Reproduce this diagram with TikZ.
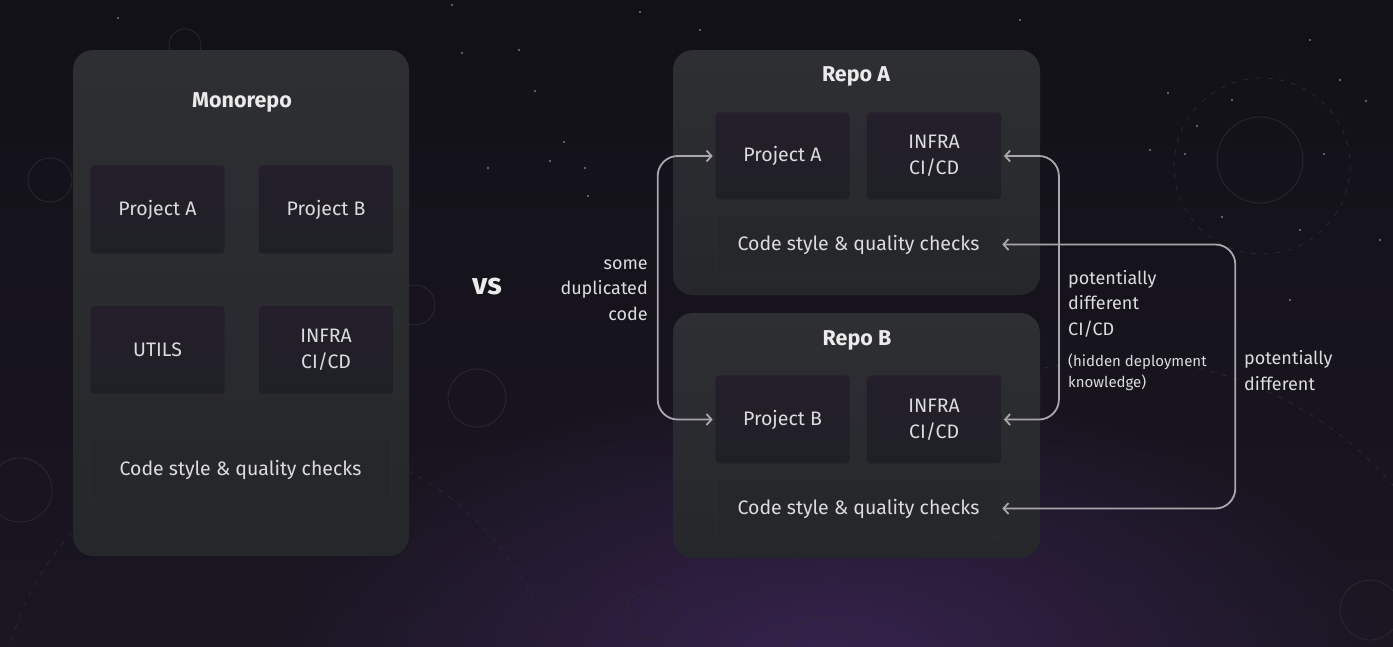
\documentclass[tikz,border=0pt]{standalone}
\usepackage{fontspec}
\setmainfont{Fira Sans}
\usetikzlibrary{positioning,arrows.meta,calc,fadings}

\definecolor{bgtop}{HTML}{121117}
\definecolor{bgbot}{HTML}{1A1622}
\definecolor{glow}{HTML}{3A2452}
\definecolor{paneltop}{HTML}{2E2F32}
\definecolor{panelbot}{HTML}{26272A}
\definecolor{celltop}{HTML}{241F2B}
\definecolor{cellbot}{HTML}{1F2026}
\definecolor{cellline}{HTML}{2F2E34}
\definecolor{chkfill}{HTML}{262729}
\definecolor{txt}{HTML}{DCDCDE}
\definecolor{linkgray}{HTML}{A8A8AC}
\definecolor{deco}{HTML}{292833}

\tikzfading[name=glowfade,inner color=transparent!0,outer color=transparent!100]

\begin{document}
\begin{tikzpicture}[x=1pt,y=-1pt,
  font=\fontsize{19.5}{26}\selectfont,
  >={Straight Barb[length=5pt,width=11pt]},
  panel/.style={rounded corners=20pt,top color=paneltop,bottom color=panelbot,
    minimum width=367pt,minimum height=245pt,inner sep=0pt},
  title/.style={font=\fontsize{21.5}{24}\selectfont\bfseries,text=white!92!black},
  cell/.style={rounded corners=4pt,top color=celltop,bottom color=cellbot,draw=cellline,
    line width=0.6pt,minimum width=135pt,minimum height=89pt,inner sep=0pt,
    align=center,text=txt},
  chk/.style={rounded corners=2pt,fill=chkfill,draw=cellline,line width=0.6pt,
    minimum width=283pt,minimum height=57pt,inner sep=0pt,text=txt},
  note/.style={text=txt,inner sep=0pt,font=\fontsize{18}{25.5}\selectfont},
  smallnote/.style={note,font=\fontsize{15}{21}\selectfont},
  flow/.style={<->,linkgray,line width=1.8pt,rounded corners=20pt,
    shorten <=2pt,shorten >=2pt},
  ring/.style={deco,line width=0.8pt},
  dashring/.style={ring,dash pattern=on 5pt off 7pt},
]

% --- background ---
\useasboundingbox (0,0) rectangle (1393,646);
\shade[top color=bgtop,bottom color=bgbot] (0,0) rectangle (1393,646);
\fill[glow,path fading=glowfade,fill opacity=0.9] (830,660) ellipse [x radius=560,y radius=280];
\begin{scope}
  \clip (0,0) rectangle (1393,646);
  \draw[ring] (185,45) circle (16);
  \draw[ring] (50,180) circle (22);
  \draw[ring] (415,305) circle (20);
  \draw[ring] (477,398) circle (29);
  \draw[ring] (20,490) circle (32);
  \draw[ring] (1260,160) circle (43);
  \draw[dashring] (1262,166) circle (88);
  \draw[ring] (820,655) circle (38);
  \draw[ring] (650,615) circle (25);
  \draw[ring] (1370,610) circle (30);
  \draw[dashring] (280,720) circle (280);
  \draw[dashring] (1120,720) circle (360);
  \foreach \sx/\sy in {118/18,462/53,519/50,535/91,564/142,488/168,585/168,588/196,
    550/161,452/5,1185/154,1197/126,1222/217,1310/40,1340/80,1366/101,1324/154,
    1300/230,1290/300,1232/100,1168/93,1150/150,700/30,640/12,1020/20,1380/240}
    \fill[white,opacity=0.45] (\sx,\sy) circle (1.1);
\end{scope}

% --- Monorepo ---
\node[panel,minimum width=336pt,minimum height=506pt] (mono) at (241,303) {};
\node[title] (mtitle) at (242,102) {Monorepo};
\node[cell] (mpa) at (157.5,209.5) {Project A};
\node[cell,right=33pt of mpa] (mpb) {Project B};
\node[cell,below=51pt of mpa] (mut) {UTILS};
\node[cell,below=51pt of mpb] (minf) {INFRA\\CI/CD};
\node[chk,minimum width=301pt,minimum height=59pt] (mchk) at (240.5,469.5) {Code style \& quality checks};

% --- vs ---
\node[font=\fontsize{30}{30}\selectfont\bfseries,text=white!92!black] (vs) at (487,287) {vs};

% --- Repo A ---
\node[panel] (repoa) at (856.5,172.5) {};
\node[title] (atitle) at (856,76) {Repo A};
\node[cell,minimum height=88pt] (apa) at (782.5,156) {Project A};
\node[cell,minimum height=88pt,right=16pt of apa] (ainf) {INFRA\\CI/CD};
\node[chk] (achk) at (858.5,244.5) {Code style \& quality checks};

% --- Repo B ---
\node[panel] (repob) at (856.5,435.5) {};
\node[title] (btitle) at (857,340) {Repo B};
\node[cell] (bpb) at (782.5,419.5) {Project B};
\node[cell,right=16pt of bpb] (binf) {INFRA\\CI/CD};
\node[chk] (bchk) at (858.5,508.5) {Code style \& quality checks};

% --- connectors ---
\draw[flow] (apa.west) -- ++(-57,0) |- (bpb.west);
\draw[flow] (ainf.east) -- ++(57,0) |- (binf.east);
\draw[flow] (achk.east) -- ++(235,0) |- (bchk.east);

% --- labels ---
\node[note,anchor=east,align=right] (dup) at (648,290) {some\\duplicated\\code};
\node[note,anchor=west,align=left] (cidiff) at (1068,303.5) {potentially\\different\\CI/CD};
\node[smallnote,anchor=west,align=left] (hidden) at (1068,372.5) {(hidden deployment\\knowledge)};
\node[note,anchor=west,align=left] (chkdiff) at (1244,370.5) {potentially\\different};

\end{tikzpicture}
\end{document}
